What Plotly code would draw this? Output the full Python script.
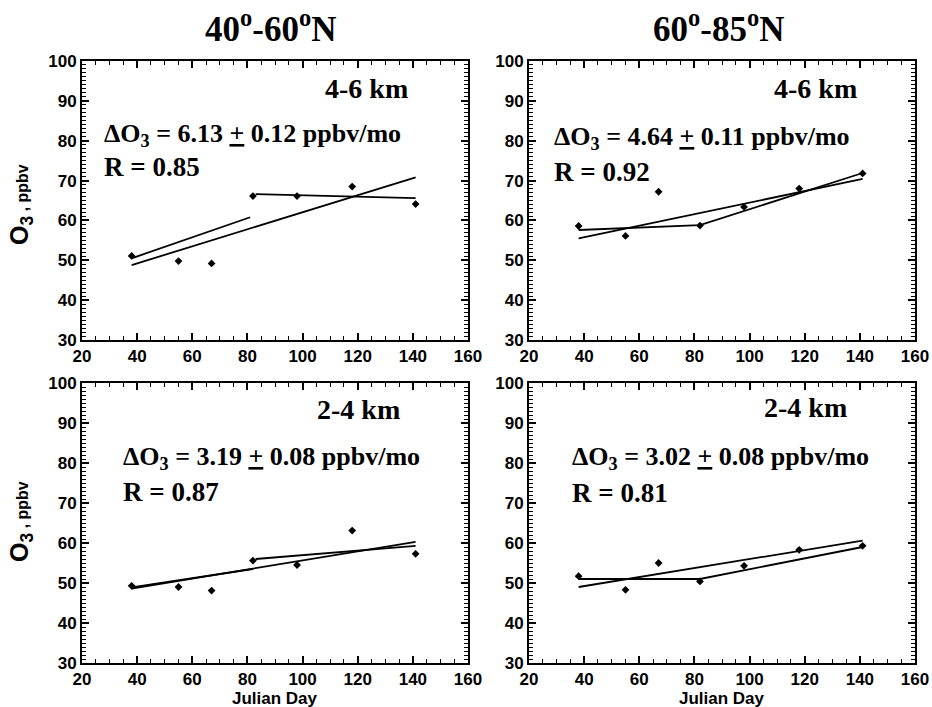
import plotly.graph_objects as go

# ---------------- data ----------------
days = [38, 55, 67, 82, 98, 118, 141]

o3_4060_46 = [51.1, 49.8, 49.2, 66.1, 66.1, 68.5, 64.1]
o3_6085_46 = [58.6, 56.1, 67.2, 58.7, 63.4, 68.0, 71.8]
o3_4060_24 = [49.3, 49.0, 48.1, 55.6, 54.5, 63.1, 57.3]
o3_6085_24 = [51.7, 48.3, 55.0, 50.4, 54.3, 58.3, 59.3]

fit_days = [38, 141]
fit_4060_46 = [48.8, 70.8]
fit_6085_46 = [55.5, 70.4]
fit_4060_24 = [48.6, 60.3]
fit_6085_24 = [49.0, 60.6]

seg_4060_46_x = [38, 81, None, 83, 141]
seg_4060_46_y = [50.5, 60.8, None, 66.6, 65.6]
seg_6085_46_x = [38, 82, 141]
seg_6085_46_y = [57.6, 58.8, 71.9]
seg_4060_24_x = [38, 82, None, 83, 141]
seg_4060_24_y = [48.9, 53.5, None, 56.0, 59.3]
seg_6085_24_x = [38, 82, 141]
seg_6085_24_y = [51.0, 51.0, 59.0]

col_titles = ["40<sup>o</sup>-60<sup>o</sup>N", "60<sup>o</sup>-85<sup>o</sup>N"]
alt_labels = ["4-6 km", "4-6 km", "2-4 km", "2-4 km"]
slopes = ["6.13", "4.64", "3.19", "3.02"]
slope_errs = ["0.12", "0.11", "0.08", "0.08"]
r_values = ["0.85", "0.92", "0.87", "0.81"]
y_title = "O<sub>3</sub><span style='font-size:16px'> , ppbv</span>"
x_title = "Julian Day"

# ---------------- layout ----------------
W, H = 932, 707
def px(x):
    return x / W
def py(y):
    return 1 - y / H

x_doms = [[px(82), px(468)], [px(529), px(915)]]
y_doms = [[py(340), py(61)], [py(663), py(383)]]

panels = [
    (o3_4060_46, fit_4060_46, seg_4060_46_x, seg_4060_46_y),
    (o3_6085_46, fit_6085_46, seg_6085_46_x, seg_6085_46_y),
    (o3_4060_24, fit_4060_24, seg_4060_24_x, seg_4060_24_y),
    (o3_6085_24, fit_6085_24, seg_6085_24_x, seg_6085_24_y),
]

# text positions in data coordinates (per panel)
alt_pos = [(139, 93.2), (139.6, 93.2), (136, 93.3), (136, 93.8)]
slope_pos = [(27.2, 81.5), (28.3, 80.7), (34.1, 81.3), (34.9, 81.3)]
r_pos = [(27.2, 73.4), (28.3, 72.2), (34.1, 72.8), (34.9, 72.6)]

fig = go.Figure()
SERIF = "Liberation Serif"
SANS = "Liberation Sans"
TXT = 26

annotations = []
for i, (vals, fit, sx, sy) in enumerate(panels):
    n = i + 1
    xa = "x" if n == 1 else f"x{n}"
    ya = "y" if n == 1 else f"y{n}"
    fig.add_trace(go.Scatter(x=fit_days, y=fit, mode="lines",
                             line=dict(color="black", width=1.8),
                             xaxis=xa, yaxis=ya, showlegend=False))
    fig.add_trace(go.Scatter(x=sx, y=sy, mode="lines",
                             line=dict(color="black", width=1.8),
                             connectgaps=False,
                             xaxis=xa, yaxis=ya, showlegend=False))
    fig.add_trace(go.Scatter(x=days, y=vals, mode="markers",
                             marker=dict(symbol="diamond", size=6, color="black"),
                             xaxis=xa, yaxis=ya, showlegend=False))
    annotations.append(dict(x=alt_pos[i][0], y=alt_pos[i][1], xref=xa, yref=ya,
                            text=alt_labels[i], showarrow=False,
                            xanchor="right", yanchor="middle",
                            font=dict(family=SERIF, size=28, color="black", weight="bold")))
    annotations.append(dict(x=slope_pos[i][0], y=slope_pos[i][1], xref=xa, yref=ya,
                            text=f"ΔO<sub>3</sub> = {slopes[i]} <u>+</u> {slope_errs[i]} ppbv/mo",
                            showarrow=False, xanchor="left", yanchor="middle",
                            font=dict(family=SERIF, size=TXT, color="black", weight="bold")))
    annotations.append(dict(x=r_pos[i][0], y=r_pos[i][1], xref=xa, yref=ya,
                            text=f"R = {r_values[i]}", showarrow=False,
                            xanchor="left", yanchor="middle",
                            font=dict(family=SERIF, size=27, color="black", weight="bold")))

# column titles
annotations.append(dict(x=px(270), y=py(26), xref="paper", yref="paper", text=col_titles[0],
                        showarrow=False, xanchor="center", yanchor="middle",
                        font=dict(family=SERIF, size=35, color="black", weight="bold")))
annotations.append(dict(x=px(718), y=py(26), xref="paper", yref="paper", text=col_titles[1],
                        showarrow=False, xanchor="center", yanchor="middle",
                        font=dict(family=SERIF, size=35, color="black", weight="bold")))
# y titles
for yc in [205, 522]:
    annotations.append(dict(x=px(21), y=py(yc), xref="paper", yref="paper", text=y_title,
                            showarrow=False, textangle=-90, xanchor="center", yanchor="middle",
                            font=dict(family=SANS, size=25, color="black", weight="bold")))
# x titles
for xc in [275, 722]:
    annotations.append(dict(x=px(xc), y=py(698), xref="paper", yref="paper", text=x_title,
                            showarrow=False, xanchor="center", yanchor="middle",
                            font=dict(family=SANS, size=17, color="black", weight="bold")))

tickfont = dict(family=SANS, size=17, color="black", weight="bold")
common_x = dict(range=[20, 160], tickmode="linear", tick0=20, dtick=20,
                ticks="inside", ticklen=7, tickwidth=1.5, tickcolor="black",
                minor=dict(dtick=5, ticks="inside", ticklen=4, tickwidth=1, tickcolor="black"),
                showline=True, linewidth=2, linecolor="black", mirror="ticks",
                showgrid=False, zeroline=False, tickfont=tickfont, automargin=False)
common_y = dict(range=[30, 100], tickmode="linear", tick0=30, dtick=10,
                ticks="inside", ticklen=7, tickwidth=1.5, tickcolor="black",
                minor=dict(dtick=1, ticks="inside", ticklen=4, tickwidth=1, tickcolor="black"),
                showline=True, linewidth=2, linecolor="black", mirror="ticks",
                showgrid=False, zeroline=False, tickfont=tickfont, automargin=False)

layout_axes = {}
for i in range(4):
    n = i + 1
    col = i % 2
    row = i // 2
    xkey = "xaxis" if n == 1 else f"xaxis{n}"
    ykey = "yaxis" if n == 1 else f"yaxis{n}"
    xa = "x" if n == 1 else f"x{n}"
    ya = "y" if n == 1 else f"y{n}"
    layout_axes[xkey] = dict(common_x, domain=x_doms[col], anchor=ya)
    layout_axes[ykey] = dict(common_y, domain=y_doms[row], anchor=xa)

fig.update_layout(
    width=W, height=H,
    margin=dict(l=0, r=0, t=0, b=0),
    paper_bgcolor="white", plot_bgcolor="white",
    annotations=annotations,
    showlegend=False,
    **layout_axes,
)

fig.write_html("out.html", config={"displayModeBar": False},
               post_script="document.body.style.margin='0px';document.body.style.overflow='hidden';")
